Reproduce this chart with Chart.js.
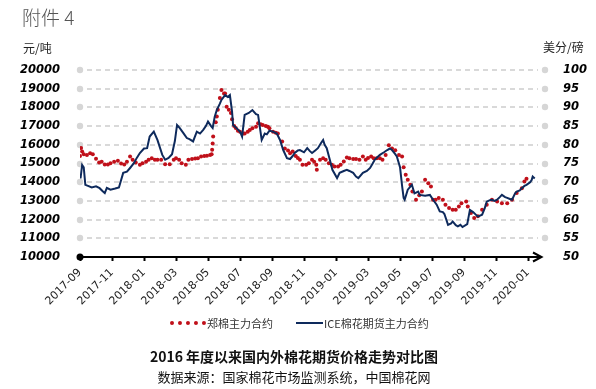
<!DOCTYPE html>
<html><head><meta charset="utf-8">
<script src="https://cdn.jsdelivr.net/npm/chart.js@4"></script>
<style>
html,body{margin:0;padding:0;background:#fff;}
#wrap{position:relative;width:596px;height:389px;overflow:hidden;}
#c{position:absolute;left:0;top:0;}
.t{position:absolute;white-space:nowrap;font-family:"Noto Sans CJK SC","DejaVu Sans",sans-serif;color:#222;}
</style></head>
<body>
<div id="wrap">
<canvas id="c" width="596" height="389"></canvas>
<div class="t" style="left:22px;top:3px;font-size:19px;color:#555;font-weight:300;">附件 4</div>
<div class="t" style="left:23px;top:39px;font-size:12px;">元/吨</div>
<div class="t" style="left:543px;top:38px;font-size:12px;">美分/磅</div>
<div class="t" style="left:170px;top:315px;font-size:11px;color:#333;display:flex;align-items:center;">
  <span style="display:inline-block;width:36px;border-top:4px dotted #c0101a;margin-right:1px;"></span><span>郑棉主力合约</span>
  <span style="display:inline-block;width:27px;border-top:2px solid #0e2a5c;margin-left:23px;margin-right:1px;"></span><span>ICE棉花期货主力合约</span>
</div>
<div class="t" style="left:0;width:588px;text-align:center;top:346px;font-size:14px;font-weight:bold;color:#111;">2016 年度以来国内外棉花期货价格走势对比图</div>
<div class="t" style="left:0;width:588px;text-align:center;top:367px;font-size:13px;color:#111;">数据来源：国家棉花市场监测系统，中国棉花网</div>
</div>
<script>
const tickLabels = ['2017-09','2017-11','2018-01','2018-03','2018-05','2018-07','2018-09','2018-11','2019-01','2019-03','2019-05','2019-07','2019-09','2019-11','2020-01'];

const czceDates = ['2017-09-01','2017-09-03','2017-09-05','2017-09-08','2017-09-14','2017-09-20','2017-09-25','2017-10-01','2017-10-07','2017-10-12','2017-10-18','2017-10-24','2017-10-29','2017-11-05','2017-11-12','2017-11-18','2017-11-24','2017-11-29','2017-12-05','2017-12-10','2017-12-16','2017-12-24','2017-12-29',
'2018-01-05','2018-01-10','2018-01-16','2018-01-22','2018-01-27','2018-02-03','2018-02-10','2018-02-18','2018-02-25','2018-03-01','2018-03-07','2018-03-12','2018-03-20','2018-03-25','2018-04-01','2018-04-07','2018-04-12','2018-04-18','2018-04-24','2018-04-29','2018-05-05','2018-05-08','2018-05-09','2018-05-10','2018-05-11','2018-05-16','2018-05-18','2018-05-20','2018-05-24','2018-05-27','2018-06-01','2018-06-03','2018-06-06','2018-06-10','2018-06-14','2018-06-16','2018-06-20','2018-06-23','2018-06-27','2018-07-01','2018-07-07','2018-07-10','2018-07-16','2018-07-20','2018-07-25','2018-08-01','2018-08-05','2018-08-10','2018-08-14','2018-08-20','2018-08-24','2018-08-27','2018-09-03','2018-09-08','2018-09-12','2018-09-20','2018-09-25','2018-10-01','2018-10-05','2018-10-10','2018-10-16','2018-10-20','2018-10-24','2018-10-29','2018-11-05','2018-11-10','2018-11-16','2018-11-20','2018-11-24','2018-11-25','2018-12-01','2018-12-07','2018-12-12','2018-12-18','2018-12-24','2018-12-29',
'2019-01-05','2019-01-10','2019-01-16','2019-01-22','2019-01-27','2019-02-03','2019-02-08','2019-02-14','2019-02-20','2019-02-25','2019-03-01','2019-03-07','2019-03-12','2019-03-18','2019-03-24','2019-03-29','2019-04-04','2019-04-10','2019-04-16','2019-04-22','2019-04-29','2019-05-05','2019-05-08','2019-05-12','2019-05-16','2019-05-21','2019-05-25','2019-06-01','2019-06-07','2019-06-12','2019-06-18','2019-06-24','2019-06-29','2019-07-03','2019-07-08','2019-07-14','2019-07-22','2019-07-27','2019-08-03','2019-08-10','2019-08-16','2019-08-22','2019-08-27','2019-09-05','2019-09-08','2019-09-14','2019-09-20','2019-09-27','2019-10-05','2019-10-14','2019-10-24','2019-11-03','2019-11-12','2019-11-22','2019-12-01','2019-12-10','2019-12-20','2019-12-25','2019-12-29'];
const czceValues = [15400,15830,15640,15500,15450,15550,15500,15250,15050,15100,14950,14950,15020,15100,15150,15000,14950,15100,15370,15200,15050,14930,15020,
15100,15200,15280,15200,15200,15200,14960,14960,15200,15280,15200,15020,14930,15200,15240,15270,15280,15370,15400,15420,15460,15500,15730,16070,16440,17200,17510,17870,18500,18930,18750,18750,18040,17870,17700,17370,17000,16900,16750,16700,16600,16610,16700,16790,16880,16960,17150,17100,17060,17000,16970,16880,16700,16650,16610,16170,15800,15700,15550,15640,15400,15300,15200,14930,14930,15020,15200,15100,14930,14660,15200,15280,15200,15020,14930,14840,
14840,14930,15110,15320,15280,15240,15240,15200,15370,15200,15300,15370,15280,15280,15280,15200,15460,15980,15800,15710,15460,15370,14800,14400,14130,13860,13500,13060,13300,13500,14130,13950,13770,13060,13060,13150,13060,12790,12620,12530,12530,12700,12880,12970,12700,12350,12080,12180,12530,12790,13060,12970,12880,12880,13060,13420,13680,14040,14180];

const iceDates = ['2017-09-02','2017-09-05','2017-09-08','2017-09-11','2017-09-16','2017-09-23','2017-10-01','2017-10-08','2017-10-14','2017-10-18','2017-10-22','2017-10-29','2017-11-07','2017-11-14','2017-11-22','2017-11-29','2017-12-05','2017-12-12','2017-12-18','2017-12-24',
'2018-01-01','2018-01-07','2018-01-12','2018-01-20','2018-01-27','2018-02-05','2018-02-10','2018-02-16','2018-02-22','2018-02-27','2018-03-03','2018-03-08','2018-03-16','2018-03-22','2018-03-27','2018-04-03','2018-04-10','2018-04-16','2018-04-22','2018-04-27','2018-05-01','2018-05-07','2018-05-10','2018-05-14','2018-05-18','2018-05-24','2018-05-27','2018-06-03','2018-06-08','2018-06-12','2018-06-16','2018-06-18','2018-06-25','2018-07-01','2018-07-05','2018-07-10','2018-07-18','2018-07-25','2018-08-01','2018-08-05','2018-08-12','2018-08-18','2018-08-22','2018-08-27','2018-09-03','2018-09-10','2018-09-16','2018-09-22','2018-09-29','2018-10-05','2018-10-10','2018-10-14','2018-10-20','2018-10-24','2018-11-01','2018-11-07','2018-11-12','2018-11-16','2018-11-22','2018-11-27','2018-12-03','2018-12-07','2018-12-10','2018-12-14','2018-12-20','2018-12-25',
'2019-01-03','2019-01-08','2019-01-16','2019-01-22','2019-01-27','2019-02-03','2019-02-08','2019-02-12','2019-02-20','2019-02-27','2019-03-05','2019-03-10','2019-03-14','2019-03-20','2019-03-24','2019-04-01','2019-04-07','2019-04-12','2019-04-16','2019-04-22','2019-04-25','2019-05-01','2019-05-05','2019-05-08','2019-05-10','2019-05-16','2019-05-24','2019-05-29','2019-06-05','2019-06-08','2019-06-18','2019-06-27','2019-07-03','2019-07-10','2019-07-16','2019-07-22','2019-07-25','2019-08-01','2019-08-07','2019-08-10','2019-08-16','2019-08-20','2019-08-25','2019-08-29','2019-09-07','2019-09-12','2019-09-18','2019-09-24','2019-09-27','2019-10-05','2019-10-10','2019-10-14','2019-10-20','2019-10-24','2019-10-29','2019-11-03','2019-11-08','2019-11-12','2019-11-18','2019-11-22','2019-11-27','2019-12-01','2019-12-07','2019-12-10','2019-12-16','2019-12-20','2019-12-25','2019-12-29','2020-01-05','2020-01-08','2020-01-10','2020-01-14'];
const iceValues = [71.0,74.6,74.0,69.3,69.0,68.6,68.9,68.4,67.6,67.1,68.5,68.0,68.3,68.6,72.5,72.8,73.8,75.0,76.5,77.8,
79.0,79.1,82.2,83.5,81.3,77.3,76.0,76.5,77.5,81.0,85.3,84.5,83.0,81.8,81.5,80.9,83.5,83.0,84.0,85.0,86.2,85.0,84.5,87.5,89.3,91.0,92.0,93.3,92.8,93.3,89.0,85.3,84.4,83.5,82.2,88.0,88.5,89.3,88.2,88.0,81.3,83.0,82.8,83.8,83.5,83.0,81.3,78.6,76.4,76.2,77.0,77.8,78.5,78.6,78.0,79.1,78.3,77.8,78.5,79.1,80.5,81.3,80.0,79.1,76.0,73.3,
71.1,72.5,73.0,73.3,73.0,72.5,71.5,71.1,72.5,73.0,73.8,75.0,76.0,76.8,77.3,78.0,78.6,79.0,78.6,77.5,76.9,74.0,69.0,65.8,65.3,68.0,69.3,67.0,67.5,66.6,66.4,66.6,65.3,64.0,62.2,62.0,61.5,58.6,59.0,59.5,58.5,58.2,58.6,58.0,58.8,62.6,62.0,61.2,60.8,61.3,63.0,64.8,65.2,65.3,65.0,65.3,66.0,66.6,66.0,65.8,65.5,65.3,67.0,67.5,67.8,68.4,69.0,69.3,70.0,70.6,71.5,71.0];

// convert a date string to months elapsed since 2017-09-01
function toMonths(s){
  const p = s.split('-').map(Number);
  const y = p[0], m = p[1], d = p[2] || 1;
  const dim = new Date(y, m, 0).getDate();
  return (y - 2017) * 12 + (m - 9) + (d - 1) / dim;
}
const czcePts = czceDates.map((d,i)=>({x:toMonths(d), y:czceValues[i]}));
const icePts = iceDates.map((d,i)=>({x:toMonths(d), y:iceValues[i]}));
const tickPos = tickLabels.map(l=>toMonths(l));

const gridPlugin = {
  id:'customGrid',
  beforeDatasetsDraw(chart){
    const ctx = chart.ctx, a = chart.chartArea, y = chart.scales.y;
    ctx.save();
    y.ticks.forEach(t=>{
      if (t.value === y.min) return;
      const py = Math.round(y.getPixelForValue(t.value));
      ctx.strokeStyle = '#d9d9d9'; ctx.lineWidth = 2; ctx.setLineDash([5,4]);
      ctx.beginPath(); ctx.moveTo(a.left + 7, py); ctx.lineTo(a.right - 7, py); ctx.stroke();
      ctx.setLineDash([]); ctx.fillStyle = '#d6d6d6';
      [a.left, a.right].forEach(px=>{ ctx.beginPath(); ctx.arc(px, py, 3.2, 0, Math.PI*2); ctx.fill(); });
    });
    const by = y.getPixelForValue(y.min);
    ctx.strokeStyle = '#000'; ctx.lineWidth = 2; ctx.setLineDash([]);
    ctx.beginPath(); ctx.moveTo(a.left, by); ctx.lineTo(a.right - 4, by); ctx.stroke();
    ctx.beginPath(); ctx.moveTo(a.right - 12, by - 4.5); ctx.lineTo(a.right - 3.5, by); ctx.lineTo(a.right - 12, by + 4.5); ctx.stroke();
    ctx.fillStyle = '#000';
    ctx.beginPath(); ctx.arc(a.left, by, 3.5, 0, Math.PI*2); ctx.fill();
    ctx.restore();
  }
};

const yFont = {family:'DejaVu Sans', size:11.5, weight:'bold', style:'italic'};

new Chart(document.getElementById('c'), {
  type:'line',
  data:{
    datasets:[
      {label:'郑棉主力合约', data:czcePts, yAxisID:'y', showLine:false, pointRadius:2, pointBackgroundColor:'#c0101a', pointBorderWidth:0, order:2},
      {label:'ICE棉花期货主力合约', data:icePts, yAxisID:'y1', borderColor:'#0e2a5c', borderWidth:2, pointRadius:0, tension:0, fill:false, order:1}
    ]
  },
  options:{
    responsive:false, animation:false, devicePixelRatio:1,
    layout:{padding:{top:70, bottom:72, left:0, right:0}},
    plugins:{legend:{display:false}, tooltip:{enabled:false}},
    scales:{
      x:{type:'linear', min:0, max:29.06,
        afterBuildTicks(s){ s.ticks = tickPos.map(v=>({value:v})); },
        afterFit(s){ s.height = 60; },
        grid:{drawOnChartArea:false, drawTicks:true, tickLength:4, tickColor:'#000', tickWidth:2},
        border:{display:false},
        ticks:{autoSkip:false, maxRotation:45, minRotation:45, padding:5, color:'#222', font:{family:'DejaVu Sans', size:11},
          callback:(v,i)=>tickLabels[i]}
      },
      y:{position:'left', min:10000, max:20000,
        afterFit(s){ s.width = 80; },
        grid:{display:false}, border:{display:false},
        ticks:{stepSize:1000, padding:12, color:'#000', font:yFont, callback:v=>String(v)}
      },
      y1:{position:'right', min:50, max:100,
        afterFit(s){ s.width = 51; },
        grid:{display:false}, border:{display:false},
        ticks:{stepSize:5, padding:10, color:'#000', font:yFont, callback:v=>String(v)}
      }
    }
  },
  plugins:[gridPlugin]
});
</script>
</body></html>
